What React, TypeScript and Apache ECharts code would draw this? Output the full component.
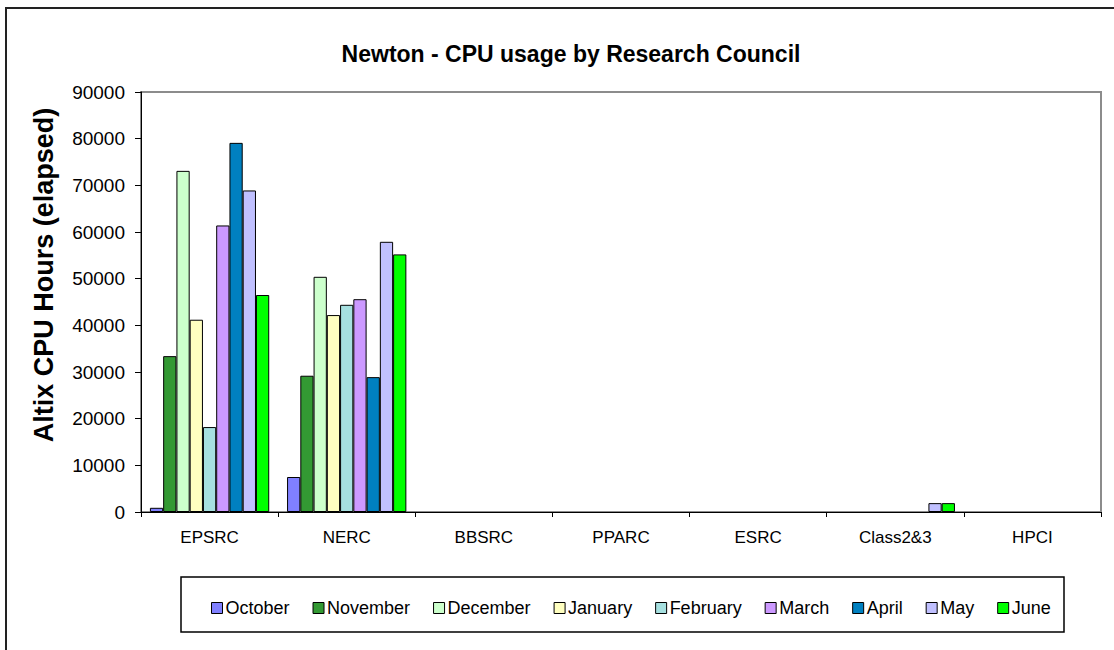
import React, { useEffect, useRef } from "react";
import * as echarts from "echarts";

const categories = ["EPSRC", "NERC", "BBSRC", "PPARC", "ESRC", "Class2&3", "HPCI"];
const months = ["October", "November", "December", "January", "February", "March", "April", "May", "June"];
const colors = ["#8080FF", "#339933", "#CCFFCC", "#FFFFC0", "#A6E0E0", "#CC99FF", "#0080C0", "#C0C0FF", "#00FF00"];

const october = [900, 7500, 0, 0, 0, 0, 0];
const november = [33400, 29200, 0, 0, 0, 0, 0];
const december = [73100, 50400, 0, 0, 0, 0, 0];
const january = [41200, 42200, 0, 0, 0, 0, 0];
const february = [18200, 44400, 0, 0, 0, 0, 0];
const march = [61400, 45600, 0, 0, 0, 0, 0];
const april = [79100, 28900, 0, 0, 0, 0, 0];
const may = [68900, 57900, 0, 0, 0, 1900, 0];
const june = [46500, 55200, 0, 0, 0, 1900, 0];

const seriesValues = [october, november, december, january, february, march, april, may, june];
const yTicks = { min: 0, max: 90000, interval: 10000 };

const FONT = "'Liberation Sans', Arial, sans-serif";

export default function App() {
  const ref = useRef<HTMLDivElement>(null);
  useEffect(() => {
    if (!ref.current) return;
    const chart = echarts.init(ref.current, null, { renderer: "svg" });
    chart.setOption({
      animation: false,
      backgroundColor: "#ffffff",
      textStyle: { fontFamily: FONT, color: "#000" },
      title: {
        text: "Newton - CPU usage by Research Council",
        left: 566,
        top: 37,
        textAlign: "center",
        textStyle: { fontFamily: FONT, fontSize: 23, fontWeight: "bold", color: "#000" },
      },
      grid: {
        left: 141,
        right: 13,
        top: 92,
        bottom: 138,
        containLabel: false,
        show: true,
        borderColor: "#8c8c8c",
        borderWidth: 2,
        backgroundColor: "transparent",
      },
      legend: {
        left: 206,
        top: 594,
        itemWidth: 11,
        itemHeight: 11,
        itemGap: 23,
        icon: "rect",
        itemStyle: { borderColor: "#000", borderWidth: 1 },
        textStyle: { fontFamily: FONT, fontSize: 18, color: "#000", padding: [0, 0, 0, -2] },
        data: months,
      },
      xAxis: {
        type: "category",
        data: categories,
        boundaryGap: true,
        z: 5,
        axisLine: { lineStyle: { color: "#000", width: 1 } },
        axisTick: { show: true, alignWithLabel: false, length: 5, lineStyle: { color: "#000" } },
        axisLabel: { fontFamily: FONT, fontSize: 17, color: "#000", margin: 17 },
        splitLine: { show: false },
      },
      yAxis: {
        type: "value",
        min: yTicks.min,
        max: yTicks.max,
        interval: yTicks.interval,
        axisLine: { show: true, lineStyle: { color: "#000", width: 1 } },
        axisTick: { show: true, length: 6, lineStyle: { color: "#000" } },
        axisLabel: {
          fontFamily: FONT,
          fontSize: 19,
          color: "#000",
          margin: 16,
          formatter: (v: number) => String(v),
        },
        splitLine: { show: false },
      },
      graphic: [
        {
          type: "rect",
          shape: { x: 6, y: 8, width: 1200, height: 700 },
          style: { fill: "none", stroke: "#222", lineWidth: 2 },
          silent: true,
          z: 100,
        },
        {
          type: "rect",
          shape: { x: 181, y: 577, width: 883, height: 55 },
          style: { fill: "none", stroke: "#000", lineWidth: 1.5 },
          silent: true,
        },
        {
          type: "text",
          x: 44,
          y: 275,
          rotation: Math.PI / 2,
          style: {
            text: "Altix CPU Hours (elapsed)",
            font: "bold 27px " + FONT,
            fill: "#000",
            align: "center",
            verticalAlign: "middle",
          },
        },
      ],
      series: months.map((m, i) => ({
        name: m,
        type: "bar",
        data: seriesValues[i].map((v) =>
          v === 0 ? { value: v, itemStyle: { borderWidth: 0 } } : v
        ),
        barGap: "0%",
        barCategoryGap: "13%",
        itemStyle: { color: colors[i], borderColor: "#000", borderWidth: 1 },
        emphasis: { disabled: true },
      })),
    });
    return () => chart.dispose();
  }, []);
  return (
    <div
      ref={ref}
      style={{ position: "absolute", left: 0, top: 0, width: 1114, height: 650 }}
    />
  );
}
